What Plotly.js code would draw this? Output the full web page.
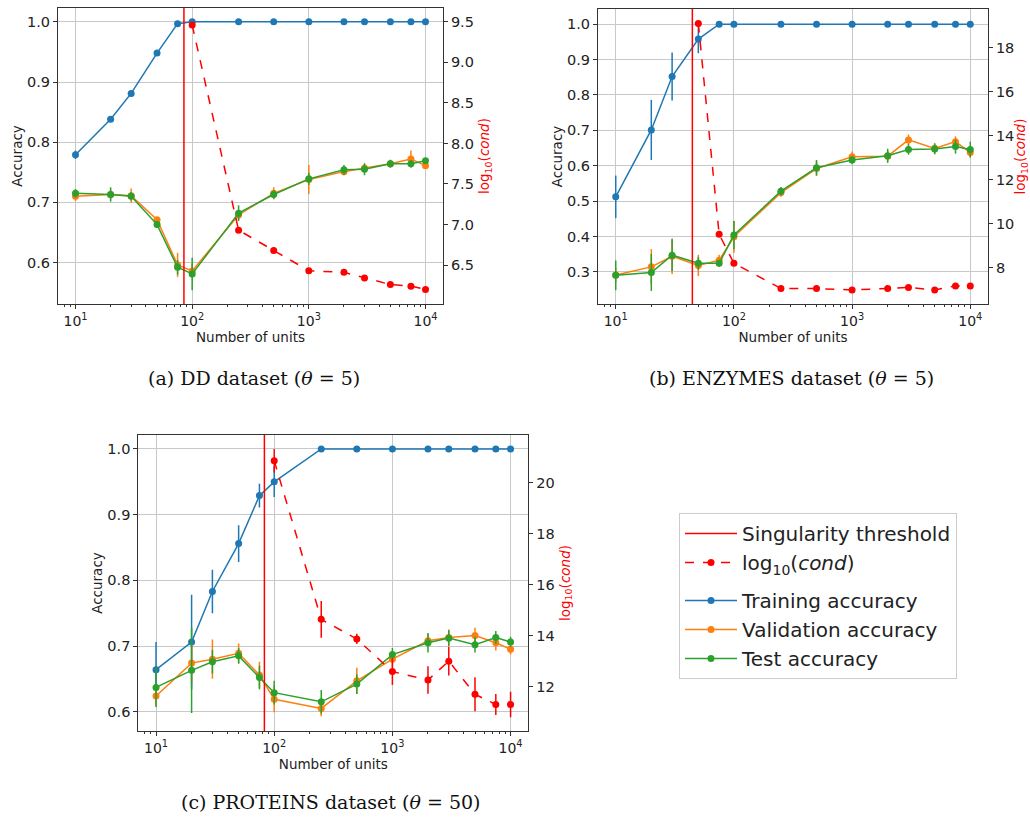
<!DOCTYPE html>
<html>
<head>
<meta charset="utf-8">
<script src="https://cdn.plot.ly/plotly-3.0.1.min.js"></script>
<style>html,body{margin:0;padding:0;background:#fff;}#chart{width:1030px;height:820px;}</style>
</head>
<body>
<div id="chart"></div>
<script>
// ---------- data ----------
const units = [10, 20, 30, 50, 75, 100, 250, 500, 1000, 2000, 3000, 5000, 7500, 10000];
const xTickVals = [10, 100, 1000, 10000];
const xTickText = ['10<sup>1</sup>', '10<sup>2</sup>', '10<sup>3</sup>', '10<sup>4</sup>'];

// DD dataset (theta = 5)
const ddTrain    = [0.779, 0.838, 0.881, 0.948, 0.997, 1.0, 1.0, 1.0, 1.0, 1.0, 1.0, 1.0, 1.0, 1.0];
const ddTrainErr = [0.007, 0.003, 0.003, 0.003, 0.002, 0.001, 0, 0, 0, 0, 0, 0, 0, 0];
const ddVal      = [0.710, 0.713, 0.711, 0.671, 0.596, 0.586, 0.679, 0.715, 0.738, 0.751, 0.757, 0.764, 0.772, 0.761];
const ddValErr   = [0.008, 0.008, 0.012, 0.004, 0.020, 0.012, 0.008, 0.010, 0.024, 0.006, 0.006, 0.007, 0.014, 0.005];
const ddTest     = [0.715, 0.713, 0.710, 0.663, 0.592, 0.581, 0.682, 0.713, 0.739, 0.754, 0.755, 0.764, 0.764, 0.769];
const ddTestErr  = [0.007, 0.012, 0.007, 0.005, 0.012, 0.027, 0.013, 0.007, 0.010, 0.008, 0.010, 0.006, 0.006, 0.004];
const ddCondUnits = [100, 250, 500, 1000, 2000, 3000, 5000, 7500, 10000];
const ddCond      = [9.46, 6.93, 6.68, 6.43, 6.41, 6.34, 6.26, 6.24, 6.20];
const ddCondErr   = [0.02, 0.02, 0.02, 0.02, 0.02, 0.02, 0.02, 0.02, 0.02];
const ddThreshold = 85;

// ENZYMES dataset (theta = 5)
const enTrain    = [0.512, 0.701, 0.852, 0.958, 1.0, 1.0, 1.0, 1.0, 1.0, 1.0, 1.0, 1.0, 1.0, 1.0];
const enTrainErr = [0.060, 0.085, 0.068, 0.040, 0, 0, 0, 0, 0, 0, 0, 0, 0, 0];
const enVal      = [0.291, 0.314, 0.344, 0.318, 0.333, 0.399, 0.524, 0.592, 0.625, 0.627, 0.673, 0.649, 0.668, 0.637];
const enValErr   = [0.020, 0.050, 0.050, 0.030, 0.015, 0.045, 0.012, 0.020, 0.015, 0.015, 0.015, 0.015, 0.015, 0.015];
const enTest     = [0.290, 0.298, 0.347, 0.324, 0.324, 0.404, 0.528, 0.594, 0.616, 0.628, 0.646, 0.647, 0.654, 0.646];
const enTestErr  = [0.042, 0.052, 0.045, 0.018, 0.010, 0.040, 0.012, 0.022, 0.012, 0.020, 0.015, 0.015, 0.020, 0.022];
const enCondUnits = [50, 75, 100, 250, 500, 1000, 2000, 3000, 5000, 7500, 10000];
const enCond      = [19.1, 9.52, 8.2, 7.06, 7.05, 6.99, 7.06, 7.10, 6.99, 7.17, 7.17];
const enCondErr   = [0.05, 0.05, 0.05, 0.05, 0.05, 0.05, 0.05, 0.05, 0.05, 0.05, 0.05];
const enThreshold = 44.5;

// PROTEINS dataset (theta = 50)
const prTrain    = [0.664, 0.706, 0.783, 0.856, 0.929, 0.950, 1.0, 1.0, 1.0, 1.0, 1.0, 1.0, 1.0, 1.0];
const prTrainErr = [0.042, 0.072, 0.033, 0.028, 0.018, 0.023, 0, 0, 0, 0, 0, 0, 0, 0];
const prVal      = [0.624, 0.674, 0.680, 0.689, 0.656, 0.619, 0.605, 0.647, 0.680, 0.708, 0.713, 0.716, 0.705, 0.695];
const prValErr   = [0.015, 0.030, 0.030, 0.015, 0.020, 0.020, 0.012, 0.020, 0.012, 0.010, 0.012, 0.012, 0.012, 0.008];
const prTest     = [0.637, 0.663, 0.676, 0.685, 0.652, 0.629, 0.615, 0.642, 0.687, 0.705, 0.712, 0.702, 0.713, 0.706];
const prTestErr  = [0.030, 0.065, 0.018, 0.012, 0.018, 0.018, 0.018, 0.015, 0.010, 0.015, 0.012, 0.012, 0.010, 0.008];
const prCondUnits = [100, 250, 500, 1000, 2000, 3000, 5000, 7500, 10000];
const prCond      = [20.86, 14.64, 13.87, 12.59, 12.26, 13.0, 11.7, 11.3, 11.3];
const prCondErr   = [0.46, 0.72, 0.20, 0.52, 0.54, 0.56, 0.67, 0.41, 0.50];
const prThreshold = 82.6;

const captions = ['(a) DD dataset (<i>θ</i> = 5)', '(b) ENZYMES dataset (<i>θ</i> = 5)', '(c) PROTEINS dataset (<i>θ</i> = 50)'];
const seriesNames = ['Training accuracy', 'Validation accuracy', 'Test accuracy'];
const condName = 'log<sub>10</sub>(<i>cond</i>)';
const thresholdName = 'Singularity threshold';

// ---------- styling ----------
const C_TRAIN = '#1f77b4', C_VAL = '#ff7f0e', C_TEST = '#2ca02c', C_RED = '#ff0000';
const FONT = 'DejaVu Sans, sans-serif';
const SERIF = 'DejaVu Serif, serif';

function accTrace(y, err, color, name, xa, ya, show, rank) {
  return {
    type: 'scatter', mode: 'lines+markers', x: units, y: y, xaxis: xa, yaxis: ya,
    name: name, showlegend: show, legendgroup: 'acc', legendrank: rank,
    line: {color: color, width: 1.5}, marker: {color: color, size: 7},
    error_y: {type: 'data', array: err, visible: true, color: color, thickness: 1.5, width: 0}
  };
}
function condTrace(xs, y, err, xa, ya, show) {
  return {
    type: 'scatter', mode: 'lines+markers', x: xs, y: y, xaxis: xa, yaxis: ya,
    name: condName, showlegend: show, legendgroup: 'cond', legendrank: 2,
    line: {color: C_RED, width: 1.5, dash: 'dash'}, marker: {color: C_RED, size: 7},
    error_y: {type: 'data', array: err, visible: true, color: C_RED, thickness: 1.5, width: 0}
  };
}

const traces = [];
const sets = [
  {tr: ddTrain, trE: ddTrainErr, va: ddVal, vaE: ddValErr, te: ddTest, teE: ddTestErr, cu: ddCondUnits, c: ddCond, cE: ddCondErr, xa: 'x', ya: 'y', ya2: 'y2'},
  {tr: enTrain, trE: enTrainErr, va: enVal, vaE: enValErr, te: enTest, teE: enTestErr, cu: enCondUnits, c: enCond, cE: enCondErr, xa: 'x2', ya: 'y3', ya2: 'y4'},
  {tr: prTrain, trE: prTrainErr, va: prVal, vaE: prValErr, te: prTest, teE: prTestErr, cu: prCondUnits, c: prCond, cE: prCondErr, xa: 'x3', ya: 'y5', ya2: 'y6'}
];
sets.forEach((s, i) => {
  const show = (i === 0);
  traces.push(accTrace(s.tr, s.trE, C_TRAIN, seriesNames[0], s.xa, s.ya, show, 3));
  traces.push(accTrace(s.va, s.vaE, C_VAL, seriesNames[1], s.xa, s.ya, show, 4));
  traces.push(accTrace(s.te, s.teE, C_TEST, seriesNames[2], s.xa, s.ya, show, 5));
  traces.push(condTrace(s.cu, s.c, s.cE, s.xa, s.ya2, show));
});

function xAxis(domain, anchor) {
  return {
    type: 'log', domain: domain, anchor: anchor, range: [Math.log10(10) - 0.15, Math.log10(10000) + 0.15],
    tickvals: xTickVals, ticktext: xTickText, ticks: 'outside', ticklen: 4, tickcolor: '#333',
    showline: true, mirror: true, linecolor: '#333', linewidth: 1,
    showgrid: true, gridcolor: '#c8c8c8', gridwidth: 1, zeroline: false,
    minor: {ticks: 'outside', ticklen: 2, tickcolor: '#333', dtick: 'D1', showgrid: false},
    tickfont: {family: FONT, size: 14, color: '#222'},
    title: {text: 'Number of units', font: {family: FONT, size: 13.5, color: '#222'}, standoff: 4}
  };
}
function yAxis(domain, anchor, range, dtick) {
  return {
    domain: domain, anchor: anchor, range: range, dtick: dtick, tick0: 0, tickformat: '.1f',
    ticks: 'outside', ticklen: 4, tickcolor: '#333',
    showline: true, mirror: true, linecolor: '#333', linewidth: 1,
    showgrid: true, gridcolor: '#c8c8c8', gridwidth: 1, zeroline: false,
    tickfont: {family: FONT, size: 14.5, color: '#222'},
    title: {text: 'Accuracy', font: {family: FONT, size: 13.5, color: '#222'}, standoff: 1}
  };
}
function y2Axis(overlay, anchor, range, dtick, fmt) {
  return {
    overlaying: overlay, anchor: anchor, side: 'right', range: range, dtick: dtick, tick0: 0, tickformat: fmt,
    ticks: 'outside', ticklen: 4, tickcolor: '#333', showline: true, linecolor: '#333', linewidth: 1,
    showgrid: false, zeroline: false,
    tickfont: {family: FONT, size: 14.5, color: '#222'},
    title: {text: condName, font: {family: FONT, size: 13.5, color: C_RED}, standoff: 6}
  };
}

const W = 1030, H = 820;
const px = v => v / W, py = v => 1 - v / H;

const layout = {
  width: W, height: H, margin: {l: 0, r: 0, t: 0, b: 0},
  paper_bgcolor: '#fff', plot_bgcolor: '#fff', font: {family: FONT},
  xaxis:  xAxis([px(58), px(443)], 'y'),
  yaxis:  yAxis([py(304), py(8)], 'x', [0.531, 1.023], 0.1),
  yaxis2: y2Axis('y', 'x', [6.02, 9.67], 0.5, '.1f'),
  xaxis2: xAxis([px(598), px(988)], 'y3'),
  yaxis3: yAxis([py(304), py(9)], 'x2', [0.209, 1.043], 0.1),
  yaxis4: y2Axis('y3', 'x2', [6.35, 19.76], 2, 'd'),
  xaxis3: xAxis([px(138.3), px(528.3)], 'y5'),
  yaxis5: yAxis([py(731), py(435)], 'x3', [0.5706, 1.0213], 0.1),
  yaxis6: y2Axis('y5', 'x3', [10.26, 21.87], 2, 'd'),
  showlegend: true,
  legend: {
    x: px(679), y: py(513), xanchor: 'left', yanchor: 'top',
    bgcolor: '#fff', bordercolor: '#cccccc', borderwidth: 1,
    font: {family: FONT, size: 20, color: '#222'}, traceorder: 'grouped', tracegroupgap: 9,
    itemwidth: 52
  },
  shapes: [
    {type: 'line', xref: 'x', yref: 'y domain', x0: ddThreshold, x1: ddThreshold, y0: 0, y1: 1, line: {color: C_RED, width: 1.5}, layer: 'above',
     showlegend: true, name: thresholdName, legendgroup: 'cond', legendrank: 1},
    {type: 'line', xref: 'x2', yref: 'y3 domain', x0: enThreshold, x1: enThreshold, y0: 0, y1: 1, line: {color: C_RED, width: 1.5}, layer: 'above'},
    {type: 'line', xref: 'x3', yref: 'y5 domain', x0: prThreshold, x1: prThreshold, y0: 0, y1: 1, line: {color: C_RED, width: 1.5}, layer: 'above'}
  ],
  annotations: [
    {text: captions[0], x: px(254), y: py(378), xref: 'paper', yref: 'paper', xanchor: 'center', yanchor: 'middle', showarrow: false, font: {family: SERIF, size: 19, color: '#111'}},
    {text: captions[1], x: px(791), y: py(378), xref: 'paper', yref: 'paper', xanchor: 'center', yanchor: 'middle', showarrow: false, font: {family: SERIF, size: 19, color: '#111'}},
    {text: captions[2], x: px(330), y: py(802), xref: 'paper', yref: 'paper', xanchor: 'center', yanchor: 'middle', showarrow: false, font: {family: SERIF, size: 19, color: '#111'}}
  ]
};

Plotly.newPlot('chart', traces, layout, {staticPlot: true, displayModeBar: false});
</script>
</body>
</html>
